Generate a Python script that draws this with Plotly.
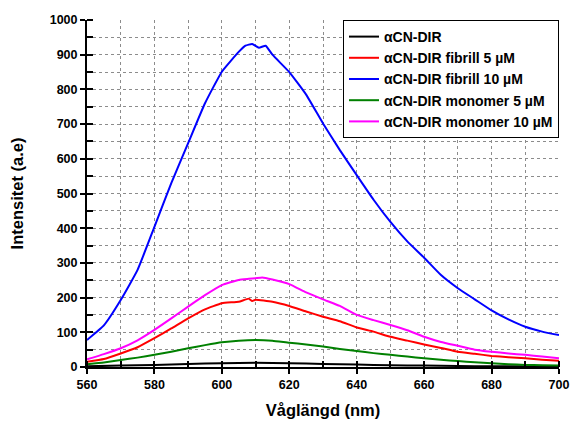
import plotly.graph_objects as go

# ---- data ----
wl_black = [560, 570, 580, 590, 600, 610, 620, 630, 640, 650, 660, 670, 680, 690, 700]
black = [2, 4, 6, 9, 11, 12, 11, 9, 7, 5, 4, 3, 2, 2, 1]

wl_red = [560, 565, 570, 575, 580, 585, 590, 595, 600, 605, 608, 609, 610, 615, 620, 625,
          630, 635, 640, 645, 650, 655, 660, 665, 670, 675, 680, 685, 690, 695, 700]
red = [15, 23, 39, 57, 83, 111, 140, 166, 184, 188, 197, 190, 194, 188, 176, 160,
       145, 132, 114, 102, 87, 76, 65, 55, 44, 38, 32, 28, 25, 21, 18]

wl_blue = [560, 565, 570, 575, 580, 585, 590, 595, 600, 605, 607, 609, 611, 613, 615, 620,
           625, 630, 635, 640, 645, 650, 655, 660, 665, 670, 675, 680, 685, 690, 695, 700]
blue = [78, 120, 193, 280, 404, 530, 645, 760, 851, 908, 926, 931, 920, 926, 900, 850,
        785, 702, 625, 553, 482, 418, 362, 315, 265, 227, 195, 163, 137, 116, 102, 92]

wl_green = [560, 565, 570, 575, 580, 585, 590, 595, 600, 605, 610, 615, 620, 625, 630,
            635, 640, 645, 650, 655, 660, 665, 670, 675, 680, 685, 690, 695, 700]
green = [8, 13, 20, 27, 35, 44, 54, 63, 71, 76, 78, 76, 70, 65, 59,
         52, 46, 40, 35, 30, 25, 21, 17, 14, 11, 8, 6, 5, 4]

wl_mag = [560, 565, 570, 575, 580, 585, 590, 595, 600, 605, 608, 610, 612, 615, 620, 625,
          630, 635, 640, 645, 650, 655, 660, 665, 670, 675, 680, 685, 690, 695, 700]
magenta = [22, 37, 54, 77, 107, 140, 174, 207, 236, 251, 254, 256, 258, 252, 239, 215,
           195, 176, 150, 135, 121, 106, 87, 72, 61, 50, 44, 39, 35, 30, 25]

names = ["\u03b1CN-DIR", "\u03b1CN-DIR fibrill 5 \u00b5M", "\u03b1CN-DIR fibrill 10 \u00b5M",
         "\u03b1CN-DIR monomer 5 \u00b5M", "\u03b1CN-DIR monomer 10 \u00b5M"]
colors = ["#000000", "#ff0000", "#0000ff", "#008000", "#ff00ff"]
xs = [wl_black, wl_red, wl_blue, wl_green, wl_mag]
ys = [black, red, blue, green, magenta]

x_ticks = [560, 580, 600, 620, 640, 660, 680, 700]
y_ticks = [0, 100, 200, 300, 400, 500, 600, 700, 800, 900, 1000]

FONT = "Liberation Sans, Arial, sans-serif"

fig = go.Figure()
for x, y, n, c in zip(xs, ys, names, colors):
    fig.add_trace(go.Scatter(x=x, y=y, mode="lines", name=n,
                             line=dict(color=c, width=2, shape="spline", smoothing=0.4)))

grid = dict(showgrid=True, gridcolor="#8c8c8c", griddash="dot", gridwidth=1)

fig.update_layout(
    width=571, height=421,
    margin=dict(l=87, r=12, t=20, b=54),
    paper_bgcolor="white", plot_bgcolor="white",
    font=dict(family=FONT, size=12, color="black"),
    showlegend=True,
    legend=dict(x=1, xanchor="right", y=1, yanchor="top",
                bgcolor="white", bordercolor="black", borderwidth=1,
                font=dict(family=FONT, size=14, color="black", weight="bold"),
                tracegroupgap=0, itemwidth=30),
    xaxis=dict(range=[560, 700], tickvals=x_ticks, ticktext=[str(v) for v in x_ticks],
               automargin=False,
               ticks="outside", ticklen=5, tickwidth=1.5, tickcolor="black",
               showline=True, linecolor="black", linewidth=2, zeroline=False,
               tickfont=dict(family=FONT, size=12.5, weight="bold"),
               title=dict(text="Våglängd (nm)", font=dict(family=FONT, size=16.5, weight="bold"),
                          standoff=13),
               minor=dict(dtick=10, tick0=560, ticks="inside", ticklen=6, tickcolor="black",
                          tickwidth=1.5, showgrid=True, gridcolor="#8c8c8c", griddash="dot"),
               **grid),
    yaxis=dict(range=[0, 1000], tickvals=y_ticks, ticktext=[str(v) for v in y_ticks],
               automargin=False,
               ticks="outside", ticklen=5, tickwidth=1.5, tickcolor="black",
               showline=True, linecolor="black", linewidth=2, zeroline=False,
               tickfont=dict(family=FONT, size=12.5, weight="bold"),
               title=dict(text="Intensitet (a.e)", font=dict(family=FONT, size=16.5, weight="bold"),
                          standoff=22),
               minor=dict(dtick=50, tick0=0, ticks="inside", ticklen=6, tickcolor="black",
                          tickwidth=1.5, showgrid=True, gridcolor="#8c8c8c", griddash="dot"),
               **grid),
)

fig.write_html("out.html")
